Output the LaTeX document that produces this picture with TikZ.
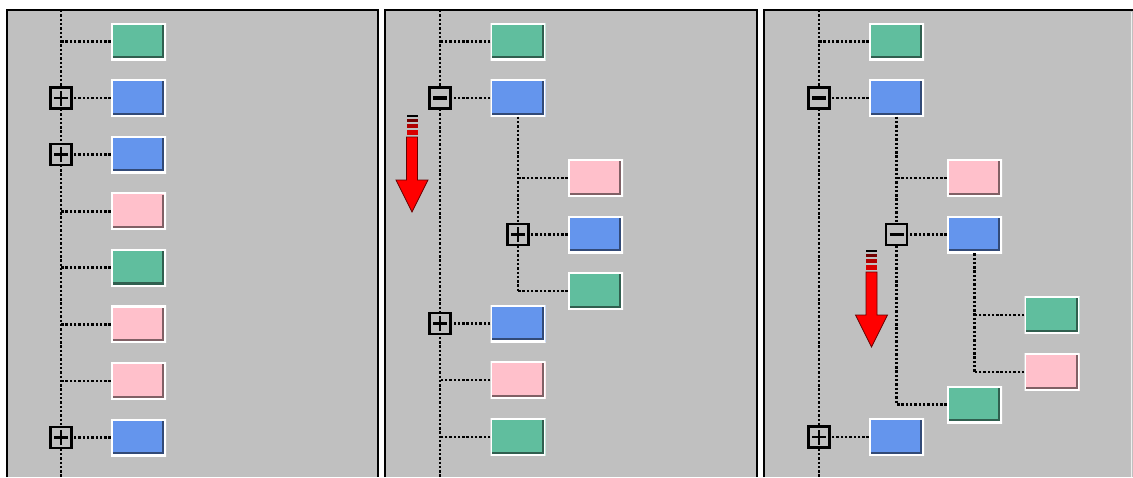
\documentclass[tikz,border=0pt]{standalone}
\usetikzlibrary{calc}
\definecolor{panelgray}{RGB}{192,192,192}
\definecolor{itemgreen}{RGB}{96,190,158}
\definecolor{itemblue}{RGB}{100,149,237}
\definecolor{itempink}{RGB}{255,192,203}
\def\scrollarrow(#1,#2){%
	\begin{scope}[shift={(#1,#2)}]
		\fill[black] (-5.5,0) rectangle (5.5,2);
		\fill[red!45!black] (-5.5,4) rectangle (5.5,7);
		\fill[red!70!black] (-5.5,9) rectangle (5.5,13);
		\fill[red!85!black] (-5.5,15) rectangle (5.5,20);
		\draw[red!40!black, fill=red, line width=0.8pt] (-5.5,22) -- (5.5,22) -- (5.5,65) -- (16,65) -- (0,97) -- (-16,65) -- (-5.5,65) -- cycle;
	\end{scope}}

\begin{document}
\begin{tikzpicture}[x=1pt, y=-1pt,
	item/.style={minimum width=55pt, minimum height=37pt, inner sep=0pt, fill=#1,
		path picture={
			\draw[white, line width=3.5pt] (path picture bounding box.south west) rectangle (path picture bounding box.north east);
			\draw[#1!50!black, line width=2.2pt] ([shift={(1.8pt,2.9pt)}]path picture bounding box.south west) -- ([shift={(-2.9pt,2.9pt)}]path picture bounding box.south east) -- ([shift={(-2.9pt,-1.8pt)}]path picture bounding box.north east);
		}},
	toggle/.style={draw=black, line width=2.6pt, fill=panelgray, minimum size=21pt, inner sep=0pt},
	plus/.style={toggle, path picture={
			\draw[line width=2.6pt] ([xshift=-7pt]path picture bounding box.center) -- ([xshift=7pt]path picture bounding box.center)
			([yshift=-7.5pt]path picture bounding box.center) -- ([yshift=7.5pt]path picture bounding box.center);}},
	minus/.style={toggle, path picture={
			\draw[line width=3.2pt] ([xshift=-7pt]path picture bounding box.center) -- ([xshift=7pt]path picture bounding box.center);}},
	treeline/.style={line width=2.8pt, dash pattern=on 2.4pt off 1.9pt}]
	%%%%% START %%%%%
	
	\useasboundingbox (0,0) rectangle (1133,477);
	
	% panels
	\fill[panelgray] (7,10) rectangle (378,477);
	\fill[panelgray] (385,10) rectangle (757,477);
	\fill[panelgray] (764,10) rectangle (1133,477);
	\draw[line width=1.5pt] (7,477) -- (7,10) -- (378,10) -- (378,477);
	\draw[line width=1.5pt] (385,477) -- (385,10) -- (757,10) -- (757,477);
	\draw[line width=1.5pt] (764,477) -- (764,10) -- (1133,10);
	\draw[white!75!panelgray, line width=1pt] (1131,12) -- (1131,477);
	
	%%% panel 1: all collapsed
	\coordinate (p1top) at (61,10);
	\coordinate (p1bot) at (61,477);
	\draw[treeline] (p1top) -- (p1bot);
	
	\node[item=itemgreen] (p1a) at (138.5,41.5) {};
	\node[item=itemblue] (p1b) at (138.5,98) {};
	\node[item=itemblue] (p1c) at (138.5,154.6) {};
	\node[item=itempink] (p1d) at (138.5,211.2) {};
	\node[item=itemgreen] (p1e) at (138.5,267.8) {};
	\node[item=itempink] (p1f) at (138.5,324.4) {};
	\node[item=itempink] (p1g) at (138.5,381) {};
	\node[item=itemblue] (p1h) at (138.5,437.6) {};
	
	\draw[treeline] (p1a.west) -- (p1a.west -| p1top);
	\draw[treeline] (p1b.west) -- (p1b.west -| p1top);
	\draw[treeline] (p1c.west) -- (p1c.west -| p1top);
	\draw[treeline] (p1d.west) -- (p1d.west -| p1top);
	\draw[treeline] (p1e.west) -- (p1e.west -| p1top);
	\draw[treeline] (p1f.west) -- (p1f.west -| p1top);
	\draw[treeline] (p1g.west) -- (p1g.west -| p1top);
	\draw[treeline] (p1h.west) -- (p1h.west -| p1top);
	
	\node[plus] (p1tb) at (p1b.west -| p1top) {};
	\node[plus] (p1tc) at (p1c.west -| p1top) {};
	\node[plus] (p1th) at (p1h.west -| p1top) {};
	
	%%% panel 2: second item opened
	\coordinate (p2top) at (440,10);
	\coordinate (p2bot) at (440,477);
	\draw[treeline] (p2top) -- (p2bot);
	
	\node[item=itemgreen] (p2a) at (518,41.5) {};
	\node[item=itemblue] (p2b) at (518,98) {};
	\node[item=itempink] (p2c) at (595.5,178) {};
	\node[item=itemblue] (p2d) at (595.5,234.5) {};
	\node[item=itemgreen] (p2e) at (595.5,291) {};
	\node[item=itemblue] (p2f) at (518,323.5) {};
	\node[item=itempink] (p2g) at (518,380) {};
	\node[item=itemgreen] (p2h) at (518,437) {};
	
	\draw[treeline] (p2a.west) -- (p2a.west -| p2top);
	\draw[treeline] (p2b.west) -- (p2b.west -| p2top);
	\draw[treeline] (p2f.west) -- (p2f.west -| p2top);
	\draw[treeline] (p2g.west) -- (p2g.west -| p2top);
	\draw[treeline] (p2h.west) -- (p2h.west -| p2top);
	
	\draw[treeline] (p2b.south) -- (p2b.south |- p2e.west);
	\draw[treeline] (p2c.west) -- (p2c.west -| p2b.south);
	\draw[treeline] (p2d.west) -- (p2d.west -| p2b.south);
	\draw[treeline] (p2e.west) -- (p2e.west -| p2b.south);
	
	\node[minus] (p2tb) at (p2b.west -| p2top) {};
	\node[plus] (p2td) at (p2d.west -| p2b.south) {};
	\node[plus] (p2tf) at (p2f.west -| p2top) {};
	
	\scrollarrow(412,115)
	
	%%% panel 3: child opened as well
	\coordinate (p3top) at (819,10);
	\coordinate (p3bot) at (819,477);
	\draw[treeline] (p3top) -- (p3bot);
	
	\node[item=itemgreen] (p3a) at (896.5,41.5) {};
	\node[item=itemblue] (p3b) at (896.5,98) {};
	\node[item=itempink] (p3c) at (974.5,178) {};
	\node[item=itemblue] (p3d) at (974.5,234.5) {};
	\node[item=itemgreen] (p3e) at (1052,315) {};
	\node[item=itempink] (p3f) at (1052,372) {};
	\node[item=itemgreen] (p3g) at (974.5,404.5) {};
	\node[item=itemblue] (p3h) at (896.5,437) {};
	
	\draw[treeline] (p3a.west) -- (p3a.west -| p3top);
	\draw[treeline] (p3b.west) -- (p3b.west -| p3top);
	\draw[treeline] (p3h.west) -- (p3h.west -| p3top);
	
	\draw[treeline] (p3b.south) -- (p3b.south |- p3g.west);
	\draw[treeline] (p3c.west) -- (p3c.west -| p3b.south);
	\draw[treeline] (p3d.west) -- (p3d.west -| p3b.south);
	\draw[treeline] (p3g.west) -- (p3g.west -| p3b.south);
	
	\draw[treeline] (p3d.south) -- (p3d.south |- p3f.west);
	\draw[treeline] (p3e.west) -- (p3e.west -| p3d.south);
	\draw[treeline] (p3f.west) -- (p3f.west -| p3d.south);
	
	\node[minus] (p3tb) at (p3b.west -| p3top) {};
	\node[minus] (p3td) at (p3d.west -| p3b.south) {};
	\node[plus] (p3th) at (p3h.west -| p3top) {};
	
	\scrollarrow(871.5,250)
	
	%%%%% END %%%%%
\end{tikzpicture}
\end{document}
